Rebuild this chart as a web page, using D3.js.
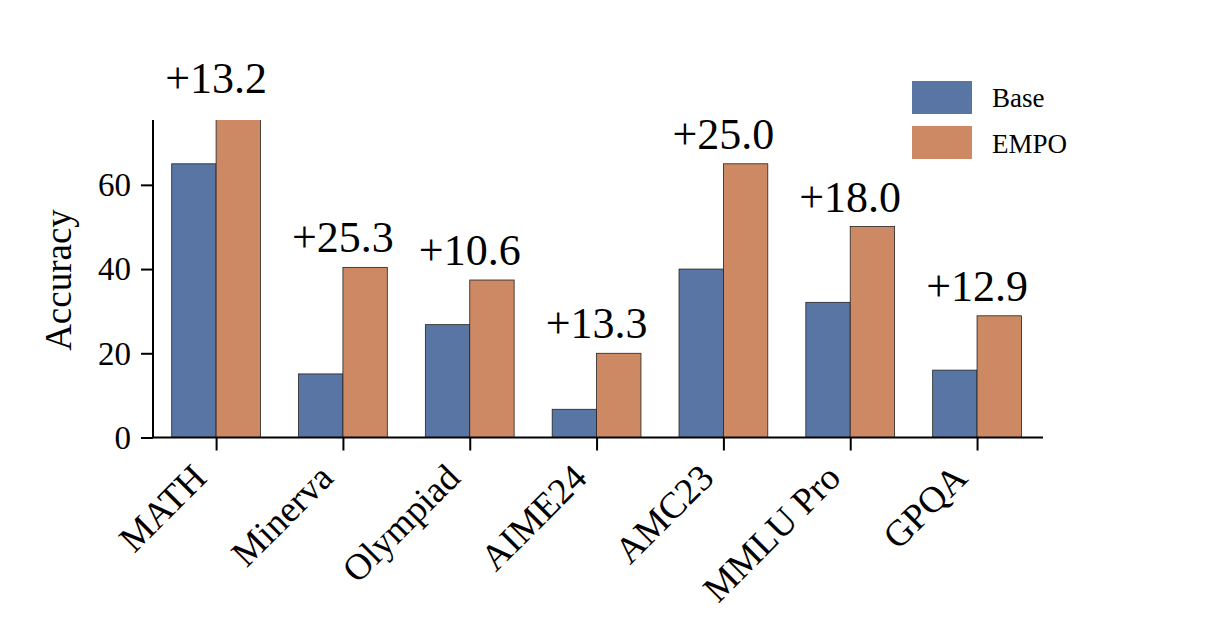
<!DOCTYPE html>
<html>
<head>
<meta charset="utf-8">
<script src="https://cdn.jsdelivr.net/npm/d3@7"></script>
<style>
  body { margin: 0; background: #fff; }
  text { font-family: "Liberation Serif", "Times New Roman", serif; fill: #000; }
</style>
</head>
<body>
<svg id="chart" width="1229" height="625"></svg>
<script>
// chart values
var categories = ["MATH", "Minerva", "Olympiad", "AIME24", "AMC23", "MMLU Pro", "GPQA"];
var baseValues = [65.0, 15.1, 26.8, 6.7, 40.0, 32.1, 16.0];
var empoValues = [78.2, 40.4, 37.4, 20.0, 65.0, 50.1, 28.9];
var gainLabels = ["+13.2", "+25.3", "+10.6", "+13.3", "+25.0", "+18.0", "+12.9"];
var yTicks = [0, 20, 40, 60];
var seriesNames = ["Base", "EMPO"];
var seriesColors = ["#5975a4", "#cc8963"];

var svg = d3.select("#chart");

var x = d3.scaleLinear().domain([-0.6, 6.52]).range([140, 1043]);
var y = d3.scaleLinear().domain([0, 75.4]).range([437.5, 120]);
var step = x(1) - x(0);
var barW = step * 0.35;

// keep bars inside the plot area (MATH/EMPO runs past the top)
svg.append("clipPath").attr("id", "plotclip")
  .append("rect")
  .attr("x", 153).attr("y", y(75.4))
  .attr("width", 1043 - 153).attr("height", y(0) - y(75.4));

var bars = svg.append("g").attr("clip-path", "url(#plotclip)");

[baseValues, empoValues].forEach(function (vals, s) {
  bars.selectAll(".bar" + s)
    .data(vals)
    .enter()
    .append("rect")
    .attr("x", (d, i) => x(i) - barW + s * barW)
    .attr("y", d => y(d))
    .attr("width", barW)
    .attr("height", d => y(0) - y(d))
    .attr("fill", seriesColors[s])
    .attr("stroke", "#222")
    .attr("stroke-width", 0.8);
});

// gain labels above each pair
svg.selectAll(".gain")
  .data(gainLabels)
  .enter()
  .append("text")
  .attr("x", (d, i) => x(i))
  .attr("y", (d, i) => y(empoValues[i]) - 15)
  .attr("text-anchor", "middle")
  .style("font-size", "44px")
  .text(d => d);

// y axis
var yAxis = svg.append("g")
  .attr("transform", "translate(153,0)")
  .call(d3.axisLeft(y).tickValues(yTicks).tickSize(12).tickPadding(10).tickFormat(d3.format("d")));
yAxis.select(".domain").attr("d", "M0," + y(75.4) + "V" + y(0)).attr("stroke-width", 2);
yAxis.selectAll(".tick line").attr("stroke-width", 2);
yAxis.selectAll(".tick text").style("font-size", "33px").attr("dy", "0.33em");

// x axis
var xAxis = svg.append("g")
  .attr("transform", "translate(0," + y(0) + ")")
  .call(d3.axisBottom(x).tickValues(d3.range(categories.length)).tickSize(13).tickFormat(""));
xAxis.select(".domain").attr("d", "M153,0H1043").attr("stroke-width", 2);
xAxis.selectAll(".tick line").attr("stroke-width", 2);

svg.selectAll(".xlab")
  .data(categories)
  .enter()
  .append("text")
  .attr("transform", (d, i) => "translate(" + (x(i) - 26) + "," + (y(0) + 24) + ") rotate(-45)")
  .attr("text-anchor", "end")
  .attr("dy", "0.7em")
  .style("font-size", "37px")
  .text(d => d);

// y label
svg.append("text")
  .attr("transform", "translate(71,280) rotate(-90)")
  .attr("text-anchor", "middle")
  .style("font-size", "37px")
  .text("Accuracy");

// legend
var legend = svg.append("g");
seriesNames.forEach(function (name, s) {
  legend.append("rect")
    .attr("x", 912).attr("y", 81 + s * 45)
    .attr("width", 60).attr("height", 33)
    .attr("fill", seriesColors[s]);
  legend.append("text")
    .attr("x", 992).attr("y", 107 + s * 46)
    .style("font-size", "27px")
    .text(name);
});
</script>
</body>
</html>
